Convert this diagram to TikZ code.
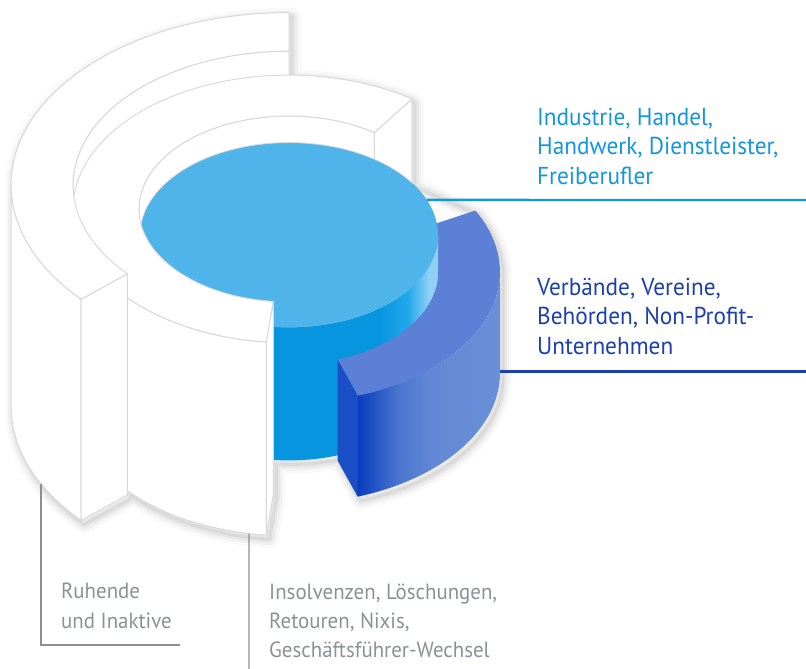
\documentclass[tikz,border=0pt]{standalone}
\usepackage{fontspec}
\setmainfont{PT Sans}[FakeStretch=0.95]
\usetikzlibrary{calc}
\definecolor{ringedge}{HTML}{D9D9D9}
\definecolor{bluetopc}{HTML}{4EB4EA}
\definecolor{bwallA}{HTML}{0795E0}
\definecolor{bwallB}{HTML}{22A7EA}
\definecolor{bwallC}{HTML}{8FD1F5}
\definecolor{darktopc}{HTML}{5B80D5}
\definecolor{dwallA}{HTML}{0A3CBE}
\definecolor{dwallB}{HTML}{4D78D0}
\definecolor{dwallC}{HTML}{6389D6}
\definecolor{dwallD}{HTML}{6A8FD8}
\definecolor{darkendc}{HTML}{1B4FC7}
\definecolor{inkblue}{HTML}{1496DC}
\definecolor{inkdark}{HTML}{1C3FAE}
\definecolor{inkgray}{HTML}{8C9196}
\definecolor{rulegray}{HTML}{8F8F8F}
\pgfdeclarehorizontalshading{bluewallshade}{100bp}{color(0bp)=(bwallA); color(65bp)=(bwallA); color(70bp)=(bwallB); color(73.5bp)=(bwallC); color(100bp)=(bwallC)}
\pgfdeclarehorizontalshading{darkwallshade}{100bp}{color(0bp)=(dwallA); color(25bp)=(dwallA); color(40bp)=(dwallB); color(52bp)=(dwallC); color(75bp)=(dwallD); color(100bp)=(dwallD)}
\newcommand{\lblfont}{\fontsize{24.5}{29.3}\selectfont}
\newcommand{\grayfont}{\fontsize{22}{29.3}\selectfont}
\newcommand{\ringoutline}{(289,656.4) arc (90:180:278 and 172.4) -- (11,263) arc (180:221.6:278 and 172.4) -- (127.5,174.1) -- (127.5,178.1) arc (221.6:264:216 and 133.9) -- (273.3,174.5) -- (273.3,209.1) arc (264:289:149 and 92.4) -- (337.5,208.6) -- (357.7,172.3) arc (289:360:211 and 130.8) -- (500,397) arc (0:28:211 and 130.8) -- (411.9,486.2) -- (411.9,570.1) arc (55.3:90:216 and 133.9) -- cycle}
\begin{document}
\begin{tikzpicture}[x=1pt,y=1pt,
    ring/.style={fill=white,draw=ringedge,line width=1pt,line join=round},
    bluetop/.style={fill=bluetopc},
    bluewall/.style={shading=bluewallshade},
    darktop/.style={fill=darktopc},
    darkwall/.style={shading=darkwallshade},
    darkend/.style={fill=darkendc},
    lbl/.style={anchor=base west,align=left,inner sep=0pt,font=\lblfont},
    graylbl/.style={lbl,font=\grayfont,text=inkgray},
    rule/.style={line width=2.4pt}]
\useasboundingbox (0,0) rectangle (806,669);
% centres of the top and bottom ellipses
\coordinate (c1t) at (289,484); \coordinate (c1b) at (289,263);
\coordinate (c2t) at (289,460); \coordinate (c2b) at (289,267);
\coordinate (cbt) at (289,434); \coordinate (cbb) at (289,301);
\coordinate (cdt) at (289,397); \coordinate (cdb) at (289,296);
% soft shadow
\foreach \w/\o in {18/0.025,12/0.035,7/0.045,3/0.05}
  \draw[shift={(3,-4)},line width=\w pt,draw=black,draw opacity=\o,line join=round] \ringoutline;
% outer white ring, inner wall
\draw[ring] ($(c1t)+(90:216 and 133.9)$) arc (90:180:216 and 133.9) -- ++(0,-221) arc (180:90:216 and 133.9) -- cycle;
% inner white ring, inner wall and back end
\draw[ring] ($(c2t)+(55.3:150 and 93)$) arc (55.3:180:150 and 93) -- ++(0,-193) arc (180:55.3:150 and 93) -- cycle;
\draw[ring] ($(c2t)+(55.3:150 and 93)$) -- ($(c2t)+(55.3:216 and 133.9)$) -- ++(0,-193) -- ($(c2b)+(55.3:150 and 93)$) -- cycle;
% blue cylinder
\path[bluewall] ($(cbb)+(180:149 and 92.4)$) arc (180:360:149 and 92.4) -- ($(cbt)+(0:149 and 92.4)$) arc (360:180:149 and 92.4) -- cycle;
% dark blue segment
\path[darkwall] ($(cdt)+(-71:211 and 130.8)$) arc (-71:0:211 and 130.8) -- ($(cdb)+(0:211 and 130.8)$) arc (0:-71:211 and 130.8) -- cycle;
\path[darktop] ($(cdt)+(-71:211 and 130.8)$) arc (-71:28:211 and 130.8) -- ($(cdt)+(28:149 and 92.4)$) arc (28:-71:149 and 92.4) -- cycle;
\path[darkend] ($(cdt)+(-71:149 and 92.4)$) -- ($(cdt)+(-71:211 and 130.8)$) -- ($(cdb)+(-71:211 and 130.8)$) -- ($(cdb)+(-71:149 and 92.4)$) -- cycle;
% blue cylinder above the segment
\path[bluewall] ($(cdt)+(180:149 and 92.4)$) arc (180:360:149 and 92.4) -- ($(cbt)+(0:149 and 92.4)$) arc (360:180:149 and 92.4) -- cycle;
\path[bluetop] (cbt) ellipse (149 and 92.4);
\draw[ringedge,line width=0.8pt] ($(cbt)+(34:149 and 92.4)$) arc (34:180:149 and 92.4);
% inner white ring, top, outer wall and front end
\draw[ring] ($(c2t)+(55.3:216 and 133.9)$) arc (55.3:264:216 and 133.9) -- ($(c2t)+(264:150 and 93)$) arc (264:55.3:150 and 93) -- cycle;
\draw[ring] ($(c2t)+(180:216 and 133.9)$) arc (180:264:216 and 133.9) -- ++(0,-193) arc (264:180:216 and 133.9) -- cycle;
\draw[ring] ($(c2t)+(264:150 and 93)$) -- ($(c2t)+(264:216 and 133.9)$) -- ++(0,-193) -- ($(c2b)+(264:150 and 93)$) -- cycle;
% outer white ring, top, outer wall and front end
\draw[ring] ($(c1t)+(90:278 and 172.4)$) arc (90:221.6:278 and 172.4) -- ($(c1t)+(221.6:216 and 133.9)$) arc (221.6:90:216 and 133.9) -- cycle;
\draw[ring] ($(c1t)+(180:278 and 172.4)$) arc (180:221.6:278 and 172.4) -- ++(0,-221) arc (221.6:180:278 and 172.4) -- cycle;
\draw[ring] ($(c1t)+(221.6:216 and 133.9)$) -- ($(c1t)+(221.6:278 and 172.4)$) -- ++(0,-221) -- ($(c1b)+(221.6:216 and 133.9)$) -- cycle;
% labels (anchored at the baseline of the last line)
\node[lbl,text=inkblue] (industrie) at (537,484.7) {Industrie, Handel,\\Handwerk, Dienstleister,\\Freiberufler};
\node[lbl,text=inkdark] (verbaende) at (537,314.7) {Verbände, Vereine,\\Behörden, Non-Profit-\\Unternehmen};
\node[graylbl] (ruhende) at (61,40.7) {Ruhende\\und Inaktive};
\node[graylbl] (insolvenz) at (269,11.3) {Insolvenzen, Löschungen,\\Retouren, Nixis,\\Geschäftsführer-Wechsel};
% rules
\coordinate (industrieL) at ($(cbt)+(22.3:149 and 92.4)$);
\coordinate (industrieR) at (806,469);
\coordinate (verbaendeL) at (500,297.3);
\coordinate (verbaendeR) at (806,297.3);
\coordinate (ruhendeT) at ($(c1b)+(206.9:278 and 172.4)$);
\coordinate (ruhendeR) at (180,24);
\coordinate (insolvenzT) at ($(c2b)+(259.3:216 and 133.9)$);
\coordinate (insolvenzB) at (249,0);
\draw[rule,draw=inkblue] (industrieL) -- (industrieR);
\draw[rule,draw=inkdark] (verbaendeL) -- (verbaendeR);
\draw[rulegray,line width=1.2pt] (ruhendeT) |- (ruhendeR);
\draw[rulegray,line width=1.2pt] (insolvenzT) -- (insolvenzB);
\end{tikzpicture}
\end{document}
